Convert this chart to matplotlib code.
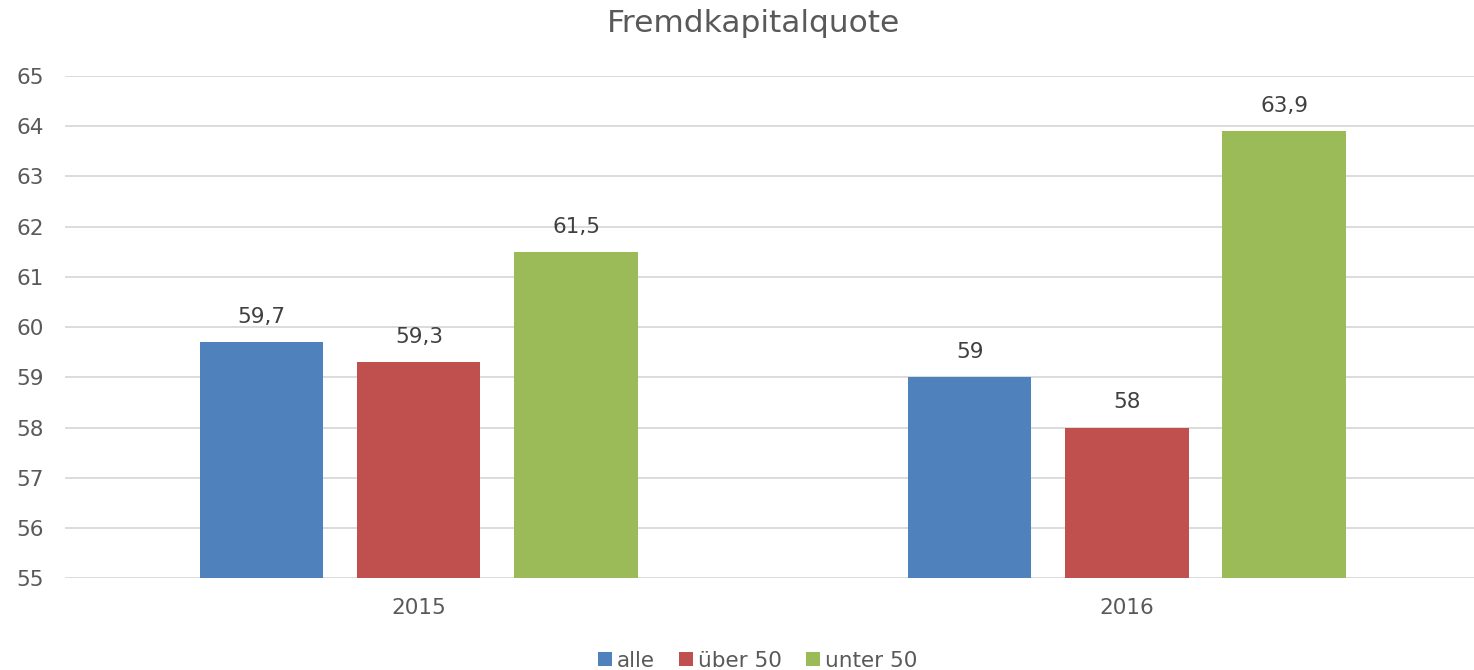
import numpy as np
import matplotlib.pyplot as plt

plt.rcParams['font.family'] = ['DejaVu Sans']

# data
years = ['2015', '2016']
series = ['alle', 'über 50', 'unter 50']
alle = [59.7, 59.0]
ueber50 = [59.3, 58.0]
unter50 = [61.5, 63.9]
colors = ['#4f81bd', '#c0504d', '#9bbb59']
txt = '#595959'

fig = plt.figure(figsize=(14.74, 6.70), dpi=100)
ax = fig.add_axes([0.044, 0.137, 0.9607, 0.7496])

x = np.arange(len(years))
width = 0.174
step = 0.222
for i, (vals, name) in enumerate(zip([alle, ueber50, unter50], series)):
    pos = x + (i - 1) * step
    ax.bar(pos, [v - 55 for v in vals], width, bottom=55, color=colors[i], label=name, zorder=2)
    for p, v in zip(pos, vals):
        lab = f'{v:.1f}'.replace('.', ',') if v != int(v) else str(int(v))
        ax.text(p, v + 0.3, lab, ha='center', va='bottom', fontsize=15.5, color='#404040')

ax.set_xlim(-0.5, 1.5)
ax.set_ylim(55, 65)
ax.set_yticks(range(55, 66))
ax.set_xticks(x)
ax.set_xticklabels(years)
ax.grid(axis='y', color='#d9d9d9', linewidth=1.3, zorder=0)
for s in ax.spines.values():
    s.set_visible(False)
ax.tick_params(length=0, labelsize=15.5, colors=txt)
ax.tick_params(axis='x', pad=14)
ax.tick_params(axis='y', pad=15)

fig.text(0.511, 0.965, 'Fremdkapitalquote', ha='center', va='center', fontsize=22.5, color=txt)
fig.legend(loc='lower center', bbox_to_anchor=(0.514, -0.03), ncol=3, frameon=False,
           fontsize=15.5, labelcolor=txt, handlelength=0.65, handleheight=0.65,
           handletextpad=0.25, columnspacing=1.1)

fig.savefig('out.png', dpi=100)
